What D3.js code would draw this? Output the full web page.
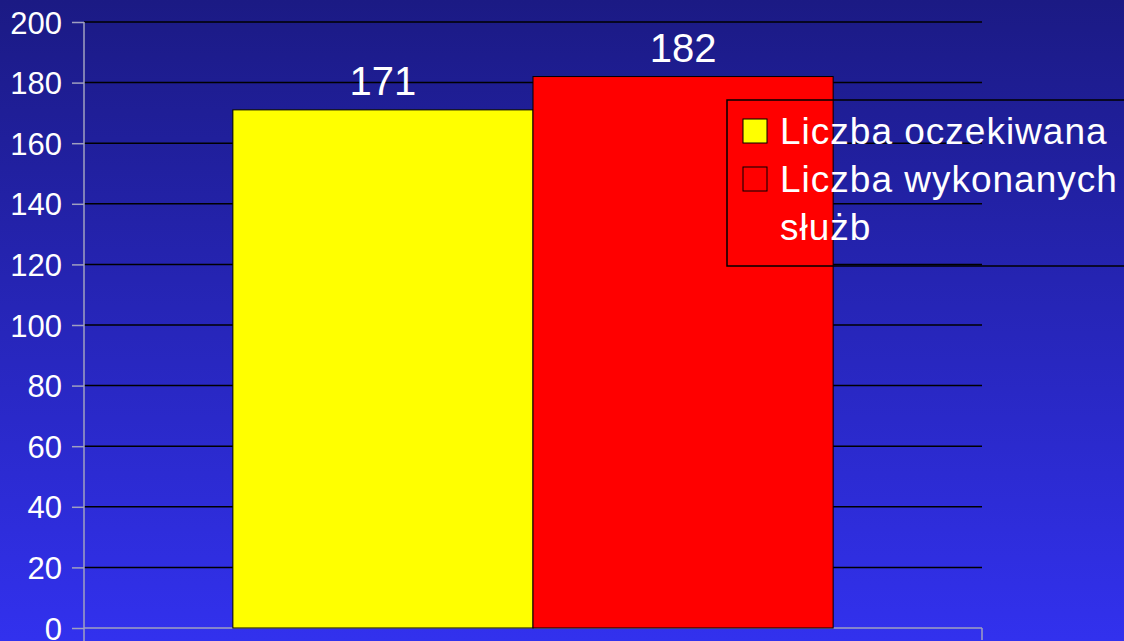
<!DOCTYPE html>
<html>
<head>
<meta charset="utf-8">
<script src="https://cdn.jsdelivr.net/npm/d3@7"></script>
<style>
  html, body { margin: 0; padding: 0; overflow: hidden; }
  svg { display: block; font-family: "Liberation Sans", Arial, sans-serif; }
</style>
</head>
<body>
<div id="chart"></div>
<script>
// data
const category = ["kategoria"];
const series = ["Liczba oczekiwana", "Liczba wykonanych służb"];
const values = [171, 182];
const colors = ["#ffff00", "#ff0000"];
const yTicks = [0, 20, 40, 60, 80, 100, 120, 140, 160, 180, 200];

let width = 1124, height = 641;
let margin = { top: 22, right: 142, bottom: 13, left: 84 };

let svg = d3.select("#chart").append("svg")
    .attr("width", width)
    .attr("height", height);

// background gradient
let grad = svg.append("defs").append("linearGradient")
    .attr("id", "bg").attr("x1", 0).attr("y1", 0).attr("x2", 0).attr("y2", 1);
grad.append("stop").attr("offset", "0%").attr("stop-color", "#1b1a84");
grad.append("stop").attr("offset", "100%").attr("stop-color", "#3231ee");
svg.append("rect").attr("width", width).attr("height", height).attr("fill", "url(#bg)");

let plotW = width - margin.left - margin.right,
    plotH = height - margin.top - margin.bottom;

let g = svg.append("g").attr("transform", "translate(" + margin.left + "," + margin.top + ")");

let y = d3.scaleLinear().domain([0, 200]).range([plotH, 0]);

// one category, bars side by side
let x0 = d3.scaleBand().domain(category).range([0, plotW]).paddingInner(0).paddingOuter(0.248);
let x1 = d3.scaleBand().domain(series).range([0, x0.bandwidth()]);

// gridlines
g.append("g")
    .selectAll("line")
    .data(yTicks.filter(d => d > 0))
    .join("line")
    .attr("x1", 0).attr("x2", plotW)
    .attr("y1", d => y(d)).attr("y2", d => y(d))
    .attr("stroke", "#000000")
    .attr("stroke-width", 1.5);

// y axis
let yAxis = g.append("g")
    .call(d3.axisLeft(y).tickValues(yTicks).tickSize(12).tickPadding(10));
yAxis.select(".domain").remove();
yAxis.selectAll(".tick line").attr("stroke", "#a0a0c0").attr("stroke-width", 1.5);
yAxis.selectAll(".tick text")
    .attr("fill", "#ffffff")
    .style("font-size", "31px")
    .attr("dy", "0.36em");
yAxis.append("line")
    .attr("x1", 0).attr("x2", 0)
    .attr("y1", 0).attr("y2", plotH + 13)
    .attr("stroke", "#a0a0c0").attr("stroke-width", 1.5);

// x axis (no labels, boundary ticks)
g.append("line")
    .attr("x1", 0).attr("x2", plotW)
    .attr("y1", plotH).attr("y2", plotH)
    .attr("stroke", "#a0a0c0").attr("stroke-width", 1.5);
g.append("line")
    .attr("x1", plotW).attr("x2", plotW)
    .attr("y1", plotH).attr("y2", plotH + 12)
    .attr("stroke", "#a0a0c0").attr("stroke-width", 1.5);

// bars
let bars = g.append("g").attr("transform", "translate(" + x0(category[0]) + ",0)");
bars.selectAll("rect")
    .data(series)
    .join("rect")
    .attr("x", d => x1(d))
    .attr("y", (d, i) => y(values[i]))
    .attr("width", x1.bandwidth())
    .attr("height", (d, i) => plotH - y(values[i]))
    .attr("fill", (d, i) => colors[i])
    .attr("stroke", "#000000")
    .attr("stroke-width", 1);

// value labels
bars.selectAll("text")
    .data(series)
    .join("text")
    .attr("x", d => x1(d) + x1.bandwidth() / 2)
    .attr("y", (d, i) => y(values[i]) - 15)
    .attr("text-anchor", "middle")
    .attr("fill", "#ffffff")
    .style("font-size", "40px")
    .text((d, i) => values[i]);

// legend
let legend = svg.append("g").attr("transform", "translate(727,100)");
legend.append("rect")
    .attr("width", 420).attr("height", 166)
    .attr("fill", "none")
    .attr("stroke", "#000000")
    .attr("stroke-width", 1.5);
let lines = [["Liczba oczekiwana"], ["Liczba wykonanych", "służb"]];
let rowY = [31, 79];
series.forEach((s, i) => {
    legend.append("rect")
        .attr("x", 16).attr("y", rowY[i] - 12)
        .attr("width", 24).attr("height", 24)
        .attr("fill", colors[i])
        .attr("stroke", "#000000")
        .attr("stroke-width", 1);
    let t = legend.append("text")
        .attr("x", 53).attr("y", rowY[i] + 13)
        .attr("fill", "#ffffff")
        .style("font-size", "37px")
        .style("letter-spacing", "1px");
    lines[i].forEach((ln, j) => {
        t.append("tspan").attr("x", 53).attr("dy", j === 0 ? 0 : 48).text(ln);
    });
});
</script>
</body>
</html>
